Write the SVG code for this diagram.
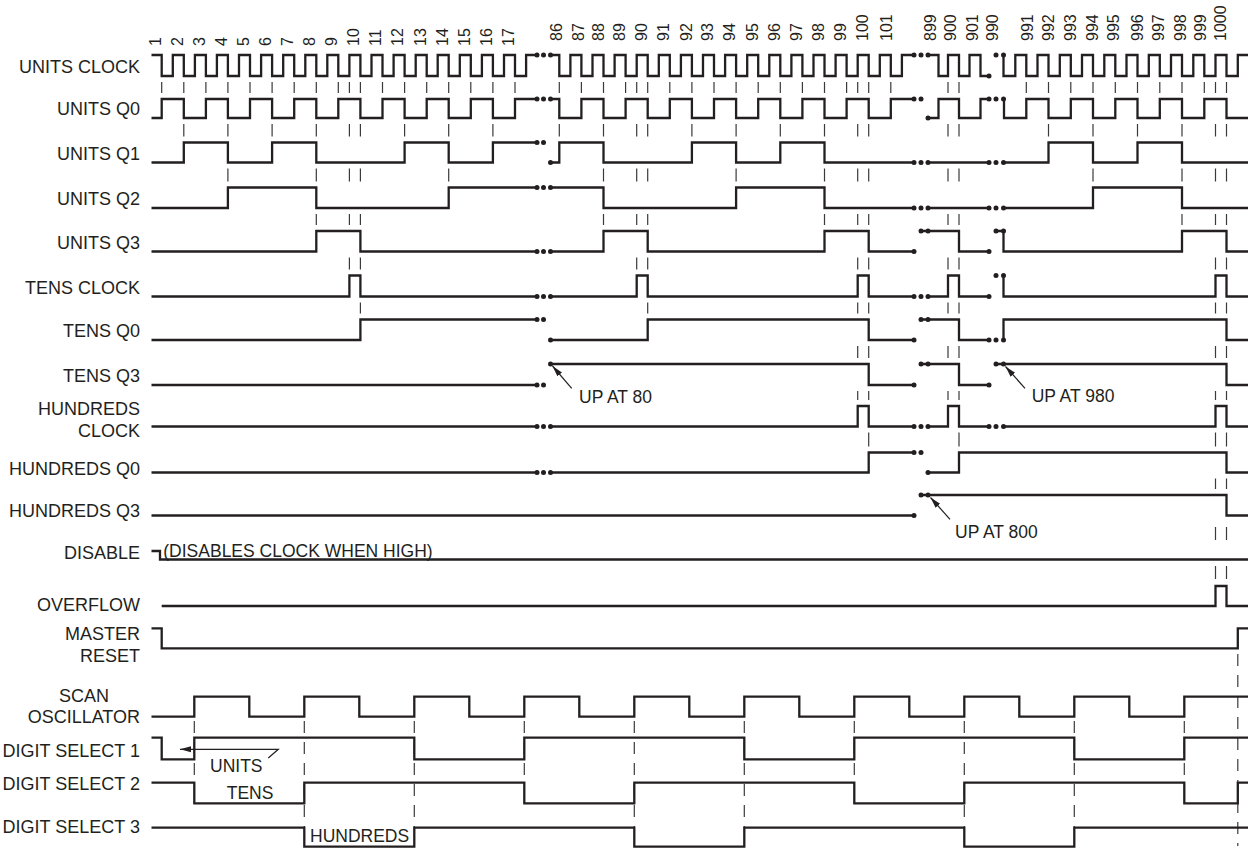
<svg xmlns="http://www.w3.org/2000/svg" width="1254" height="852" viewBox="0 0 1254 852">
<defs>
<style>
.w{fill:none;stroke:#231f20;stroke-width:2.3;stroke-linejoin:miter;stroke-linecap:butt}
.dl{fill:none;stroke:#3a3a3a;stroke-width:1.2;stroke-dasharray:11 31 12.5 32 13 32.5 11 32.5 12 33 11 32.5 12 33 9 32.5 14 32 10.5 38 13 26 13 100}
.db{fill:none;stroke:#3a3a3a;stroke-width:1.2;stroke-dasharray:12 9}
.t{font-family:"Liberation Sans",Arial,sans-serif;font-size:18px;fill:#231f20}
.lb{text-anchor:end}
.n{font-family:"Liberation Sans",Arial,sans-serif;font-size:16px;fill:#231f20}
.a{font-family:"Liberation Sans",Arial,sans-serif;font-size:17.5px;fill:#231f20}
.ar{fill:none;stroke:#231f20;stroke-width:1.2}
circle{fill:#231f20}
</style>
<marker id="ah" markerUnits="userSpaceOnUse" markerWidth="12" markerHeight="8" refX="11" refY="3.5" orient="auto">
<path d="M0,0.5 L11,3.5 L0,6.5 z" fill="#231f20"/>
</marker>
</defs>
<rect width="1254" height="852" fill="#fff"/>

<g id="numbers" class="n">
<text transform="translate(160.5,46) rotate(-90)">1</text>
<text transform="translate(182.6,46) rotate(-90)">2</text>
<text transform="translate(204.7,46) rotate(-90)">3</text>
<text transform="translate(226.7,46) rotate(-90)">4</text>
<text transform="translate(248.8,46) rotate(-90)">5</text>
<text transform="translate(270.9,46) rotate(-90)">6</text>
<text transform="translate(293,46) rotate(-90)">7</text>
<text transform="translate(315.1,46) rotate(-90)">8</text>
<text transform="translate(337.1,46) rotate(-90)">9</text>
<text transform="translate(359.2,46) rotate(-90)">10</text>
<text transform="translate(381.3,46) rotate(-90)">11</text>
<text transform="translate(403.4,46) rotate(-90)">12</text>
<text transform="translate(425.5,46) rotate(-90)">13</text>
<text transform="translate(447.5,46) rotate(-90)">14</text>
<text transform="translate(469.6,46) rotate(-90)">15</text>
<text transform="translate(491.7,46) rotate(-90)">16</text>
<text transform="translate(513.8,46) rotate(-90)">17</text>
<text transform="translate(561.8,41) rotate(-90)">86</text>
<text transform="translate(583.8,41) rotate(-90)">87</text>
<text transform="translate(603.8,41) rotate(-90)">88</text>
<text transform="translate(625.3,41) rotate(-90)">89</text>
<text transform="translate(647.3,41) rotate(-90)">90</text>
<text transform="translate(668.8,41) rotate(-90)">91</text>
<text transform="translate(691.8,41) rotate(-90)">92</text>
<text transform="translate(713.3,41) rotate(-90)">93</text>
<text transform="translate(735.3,41) rotate(-90)">94</text>
<text transform="translate(757.8,41) rotate(-90)">95</text>
<text transform="translate(779.8,41) rotate(-90)">96</text>
<text transform="translate(801.8,41) rotate(-90)">97</text>
<text transform="translate(823.8,41) rotate(-90)">98</text>
<text transform="translate(845.8,41) rotate(-90)">99</text>
<text transform="translate(868.3,41) rotate(-90)">100</text>
<text transform="translate(891.8,41) rotate(-90)">101</text>
<text transform="translate(935.8,41) rotate(-90)">899</text>
<text transform="translate(955.8,41) rotate(-90)">900</text>
<text transform="translate(977.5,41) rotate(-90)">901</text>
<text transform="translate(997.5,41) rotate(-90)">990</text>
<text transform="translate(1032.5,41) rotate(-90)">991</text>
<text transform="translate(1054.1,41) rotate(-90)">992</text>
<text transform="translate(1075.8,41) rotate(-90)">993</text>
<text transform="translate(1097.5,41) rotate(-90)">994</text>
<text transform="translate(1119.1,41) rotate(-90)">995</text>
<text transform="translate(1142.5,41) rotate(-90)">996</text>
<text transform="translate(1164.1,41) rotate(-90)">997</text>
<text transform="translate(1185.8,41) rotate(-90)">998</text>
<text transform="translate(1205.8,41) rotate(-90)">999</text>
<text transform="translate(1225.8,41) rotate(-90)">1000</text>
</g>

<g id="labels" class="t lb">
<text x="140" y="73">UNITS CLOCK</text>
<text x="140" y="115">UNITS Q0</text>
<text x="140" y="159.5">UNITS Q1</text>
<text x="140" y="205">UNITS Q2</text>
<text x="140" y="248.5">UNITS Q3</text>
<text x="140" y="293.5">TENS CLOCK</text>
<text x="140" y="337">TENS Q0</text>
<text x="140" y="382">TENS Q3</text>
<text x="140" y="415">HUNDREDS</text>
<text x="140" y="436.5">CLOCK</text>
<text x="140" y="475">HUNDREDS Q0</text>
<text x="140" y="516.5">HUNDREDS Q3</text>
<text x="140" y="559">DISABLE</text>
<text x="140" y="611">OVERFLOW</text>
<text x="140" y="640">MASTER</text>
<text x="140" y="661.5">RESET</text>
<text x="84" y="701.5" style="text-anchor:middle">SCAN</text>
<text x="140" y="722.5">OSCILLATOR</text>
<text x="140" y="756.5">DIGIT SELECT 1</text>
<text x="140" y="790">DIGIT SELECT 2</text>
<text x="140" y="833">DIGIT SELECT 3</text>
</g>

<g id="connectors">
<path class="dl" d="M161.7,82V93M205.9,82V93M250,82V93M294.2,82V93M338.3,82V93M382.5,82V93M426.7,82V93M470.8,82V93M515,82V93M581.4,82V93M625.6,82V93M669.8,82V93M714,82V93M758.2,82V93M802.4,82V93M846.6,82V93M890.8,82V93M1026.3,82V93M1070.8,82V93M1115.3,82V93M1159.8,82V93M1204.3,82V93
M183.8,82V136.5M272.1,82V136.5M404.6,82V136.5M492.9,82V136.5M559.3,82V136.5M691.9,82V136.5M780.3,82V136.5M1048.5,82V136.5M1137.5,82V136.5
M227.9,82V181.5M448.7,82V181.5M736.1,82V181.5M1093,82V181.5
M316.3,82V225M603.5,82V225M824.5,82V225M1182,82V225
M349.4,82V269.5M636.7,82V269.5
M360.4,82V313.5M647.7,82V313.5
M857.7,82V400M948,82V400
M868.7,82V446.5M959,82V446.5
M1215.5,82V579M1226.5,82V579"/>
<path class="db" d="M194.3,721V783M304.3,721V828M414.3,721V828M524.3,721V783M634.3,721V828M744.3,721V828M854.3,721V783M964.3,721V828M1074.3,721V828M1184.3,721V783M1237.8,654V846"/>
<path class="ar" marker-end="url(#ah)" d="M571.7,388.3L552.5,366"/>
<path class="ar" marker-end="url(#ah)" d="M1025,388.3L1005.5,366.5"/>
<path class="ar" marker-end="url(#ah)" d="M950,519.3L930.5,497.5"/>
<path class="ar" marker-end="url(#ah)" d="M268.3,758L278.3,749.3L180,749.3"/>
</g>

<g id="units-clock">
<path class="w" d="M151.5,55H161.7V76H172.8V55H183.8V76H194.9V55H205.9V76H216.9V55H227.9V76H239V55H250V76H261.1V55H272.1V76H283.2V55H294.2V76H305.3V55H316.3V76H327.3V55H338.3V76H349.4V55H360.4V76H371.5V55H382.5V76H393.6V55H404.6V76H415.7V55H426.7V76H437.7V55H448.7V76H459.8V55H470.8V76H481.9V55H492.9V76H504V55H515V76H526.1V55H537"/>
<path class="w" d="M550.5,55H559.3V76H570.4V55H581.4V76H592.5V55H603.5V76H614.6V55H625.6V76H636.7V55H647.7V76H658.8V55H669.8V76H680.9V55H691.9V76H703V55H714V76H725.1V55H736.1V76H747.2V55H758.2V76H769.3V55H780.3V76H791.4V55H802.4V76H813.5V55H824.5V76H835.6V55H846.6V76H857.7V55H868.7V76H879.8V55H890.8V76H901.9V55H914"/>
<path class="w" d="M928,55H938.5V76H948V55H959V76H969.5V55H980.5V76H989"/>
<path class="w" d="M1003.5,55V76H1015.3V55H1026.3V76H1037.5V55H1048.5V76H1059.8V55H1070.8V76H1082V55H1093V76H1104.3V55H1115.3V76H1126.5V55H1137.5V76H1148.8V55H1159.8V76H1171V55H1182V76H1193.3V55H1204.3V76H1215.5V55H1226.5V76H1237.8V55H1248"/>
<circle cx="537" cy="55" r="2.5"/><circle cx="543.5" cy="55" r="2.5"/><circle cx="550.5" cy="55" r="2.5"/>
<circle cx="914" cy="55" r="2.5"/><circle cx="921" cy="55" r="2.5"/><circle cx="928" cy="55" r="2.5"/>
<circle cx="989" cy="76" r="2.5"/><circle cx="996" cy="55" r="2.5"/><circle cx="1003.5" cy="55" r="2.5"/>
</g>

<g id="units-q0">
<path class="w" d="M151.5,118H161.7V99H183.8V118H205.9V99H227.9V118H250V99H272.1V118H294.2V99H316.3V118H338.3V99H360.4V118H382.5V99H404.6V118H426.7V99H448.7V118H470.8V99H492.9V118H515V99H537"/>
<path class="w" d="M550.5,99H559.3V118H581.4V99H603.5V118H625.6V99H647.7V118H669.8V99H691.9V118H714V99H736.1V118H758.2V99H780.3V118H802.4V99H824.5V118H846.6V99H868.7V118H890.8V99H914"/>
<path class="w" d="M928,118H938.5V99H959V118H980.5V99H989"/>
<path class="w" d="M1003.5,99H1004V118H1026.3V99H1048.5V118H1070.8V99H1093V118H1115.3V99H1137.5V118H1159.8V99H1182V118H1204.3V99H1226.5V118H1248"/>
<circle cx="537" cy="99" r="2.5"/><circle cx="543.5" cy="99" r="2.5"/><circle cx="550.5" cy="99" r="2.5"/>
<circle cx="914" cy="99" r="2.5"/><circle cx="921" cy="99" r="2.5"/><circle cx="928" cy="118" r="2.5"/>
<circle cx="989" cy="99" r="2.5"/><circle cx="996" cy="99" r="2.5"/><circle cx="1003.5" cy="99" r="2.5"/>
</g>

<g id="units-q1">
<path class="w" d="M151.5,162.5H183.8V142.5H227.9V162.5H272.1V142.5H316.3V162.5H404.6V142.5H448.7V162.5H492.9V142.5H537"/>
<path class="w" d="M550.5,162.5H559.3V142.5H603.5V162.5H691.9V142.5H736.1V162.5H780.3V142.5H824.5V162.5H914"/>
<path class="w" d="M928,162.5H989"/>
<path class="w" d="M1003.5,162.5H1048.5V142.5H1093V162.5H1137.5V142.5H1182V162.5H1248"/>
<circle cx="537" cy="142.5" r="2.5"/><circle cx="543.5" cy="142.5" r="2.5"/><circle cx="550.5" cy="162.5" r="2.5"/>
<circle cx="914" cy="162.5" r="2.5"/><circle cx="921" cy="162.5" r="2.5"/><circle cx="928" cy="162.5" r="2.5"/>
<circle cx="989" cy="162.5" r="2.5"/><circle cx="996" cy="162.5" r="2.5"/><circle cx="1003.5" cy="162.5" r="2.5"/>
</g>

<g id="units-q2">
<path class="w" d="M151.5,208H227.9V187.5H316.3V208H448.7V187.5H537"/>
<path class="w" d="M550.5,187.5H603.5V208H736.1V187.5H824.5V208H914"/>
<path class="w" d="M928,208H989"/>
<path class="w" d="M1003.5,208H1093V187.5H1182V208H1248"/>
<circle cx="537" cy="187.5" r="2.5"/><circle cx="543.5" cy="187.5" r="2.5"/><circle cx="550.5" cy="187.5" r="2.5"/>
<circle cx="914" cy="208" r="2.5"/><circle cx="921" cy="208" r="2.5"/><circle cx="928" cy="208" r="2.5"/>
<circle cx="989" cy="208" r="2.5"/><circle cx="996" cy="208" r="2.5"/><circle cx="1003.5" cy="208" r="2.5"/>
</g>

<g id="units-q3">
<path class="w" d="M151.5,251.5H316.3V231H360.4V251.5H537"/>
<path class="w" d="M550.5,251.5H603.5V231H647.7V251.5H824.5V231H868.7V251.5H914"/>
<path class="w" d="M921,231H959V251.5H989"/>
<path class="w" d="M996,231H1003.5V251.5H1182V231H1226.5V251.5H1248"/>
<circle cx="537" cy="251.5" r="2.5"/><circle cx="543.5" cy="251.5" r="2.5"/><circle cx="550.5" cy="251.5" r="2.5"/>
<circle cx="914" cy="251.5" r="2.5"/><circle cx="921" cy="231" r="2.5"/><circle cx="928" cy="231" r="2.5"/>
<circle cx="989" cy="251.5" r="2.5"/><circle cx="996" cy="231" r="2.5"/><circle cx="1003.5" cy="231" r="2.5"/>
</g>

<g id="tens-clock">
<path class="w" d="M151.5,296.5H349.4V275.5H360.4V296.5H537"/>
<path class="w" d="M550.5,296.5H636.7V275.5H647.7V296.5H857.7V275.5H868.7V296.5H914"/>
<path class="w" d="M928,296.5H948V275.5H959V296.5H989"/>
<path class="w" d="M1003.5,275.5V296.5H1215.5V275.5H1226.5V296.5H1248"/>
<circle cx="537" cy="296.5" r="2.5"/><circle cx="543.5" cy="296.5" r="2.5"/><circle cx="550.5" cy="296.5" r="2.5"/>
<circle cx="914" cy="296.5" r="2.5"/><circle cx="921" cy="296.5" r="2.5"/><circle cx="928" cy="296.5" r="2.5"/>
<circle cx="989" cy="296.5" r="2.5"/><circle cx="996" cy="275.5" r="2.5"/><circle cx="1003.5" cy="275.5" r="2.5"/>
</g>

<g id="tens-q0">
<path class="w" d="M151.5,340H360.4V319.5H537"/>
<path class="w" d="M550.5,340H647.7V319.5H868.7V340H914"/>
<path class="w" d="M921,319.5H959V340H989"/>
<path class="w" d="M1003.5,340V319.5H1226.5V340H1248"/>
<circle cx="537" cy="319.5" r="2.5"/><circle cx="543.5" cy="319.5" r="2.5"/><circle cx="550.5" cy="340" r="2.5"/>
<circle cx="914" cy="340" r="2.5"/><circle cx="921" cy="319.5" r="2.5"/><circle cx="928" cy="319.5" r="2.5"/>
<circle cx="989" cy="340" r="2.5"/><circle cx="996" cy="340" r="2.5"/><circle cx="1003.5" cy="340" r="2.5"/>
</g>

<g id="tens-q3">
<path class="w" d="M151.5,385H537"/>
<path class="w" d="M550.5,364H868.7V385H914"/>
<path class="w" d="M921,364H959V385H989"/>
<path class="w" d="M996,364H1226.5V385H1248"/>
<circle cx="537" cy="385" r="2.5"/><circle cx="543.5" cy="385" r="2.5"/><circle cx="550.5" cy="364" r="2.5"/>
<circle cx="914" cy="385" r="2.5"/><circle cx="921" cy="364" r="2.5"/><circle cx="928" cy="364" r="2.5"/>
<circle cx="989" cy="385" r="2.5"/><circle cx="996" cy="364" r="2.5"/><circle cx="1003.5" cy="364" r="2.5"/>
<text class="a" x="579" y="403">UP AT 80</text>
<text class="a" x="1031.7" y="401.7">UP AT 980</text>
</g>

<g id="hundreds-clock">
<path class="w" d="M151.5,426.5H537"/>
<path class="w" d="M550.5,426.5H857.7V406H868.7V426.5H914"/>
<path class="w" d="M928,426.5H948V406H959V426.5H989"/>
<path class="w" d="M1003.5,426.5H1215.5V406H1226.5V426.5H1248"/>
<circle cx="537" cy="426.5" r="2.5"/><circle cx="543.5" cy="426.5" r="2.5"/><circle cx="550.5" cy="426.5" r="2.5"/>
<circle cx="914" cy="426.5" r="2.5"/><circle cx="921" cy="426.5" r="2.5"/><circle cx="928" cy="426.5" r="2.5"/>
<circle cx="989" cy="426.5" r="2.5"/><circle cx="996" cy="426.5" r="2.5"/><circle cx="1003.5" cy="426.5" r="2.5"/>
</g>

<g id="hundreds-q0">
<path class="w" d="M151.5,472.5H537"/>
<path class="w" d="M550.5,472.5H868.7V452.5H914"/>
<path class="w" d="M928,472.5H959V452.5H1226.5V472.5H1248"/>
<circle cx="537" cy="472.5" r="2.5"/><circle cx="543.5" cy="472.5" r="2.5"/><circle cx="550.5" cy="472.5" r="2.5"/>
<circle cx="914" cy="452.5" r="2.5"/><circle cx="921" cy="452.5" r="2.5"/><circle cx="928" cy="472.5" r="2.5"/>
</g>

<g id="hundreds-q3">
<path class="w" d="M151.5,515.5H914"/>
<path class="w" d="M921,495H1226.5V515.5H1248"/>
<circle cx="914" cy="515.5" r="2.5"/><circle cx="921" cy="495" r="2.5"/><circle cx="928" cy="495" r="2.5"/>
<text class="a" x="955" y="538.3">UP AT 800</text>
</g>

<g id="disable">
<path class="w" d="M151.5,551H160V559.5H1248"/>
<text class="a" x="163.3" y="557">(DISABLES CLOCK WHEN HIGH)</text>
</g>

<g id="overflow">
<path class="w" d="M161.7,606H1215.5V586H1226.5V606H1248"/>
</g>

<g id="master-reset">
<path class="w" d="M151.5,628.3H161.7V648.3H1237.8V628.3H1248"/>
</g>

<g id="scan-oscillator">
<path class="w" d="M151.5,716.7H194.3V696.7H249.3V716.7H304.3V696.7H359.3V716.7H414.3V696.7H469.3V716.7H524.3V696.7H579.3V716.7H634.3V696.7H689.3V716.7H744.3V696.7H799.3V716.7H854.3V696.7H909.3V716.7H964.3V696.7H1019.3V716.7H1074.3V696.7H1129.3V716.7H1184.3V696.7H1248"/>
</g>

<g id="digit-select-1">
<path class="w" d="M151.5,737.7H161.7V759.3H194.3V737.7H414.3V759.3H524.3V737.7H744.3V759.3H854.3V737.7H1074.3V759.3H1184.3V737.7H1248"/>
<text class="a" x="210" y="771.7">UNITS</text>
</g>

<g id="digit-select-2">
<path class="w" d="M151.5,782.7H194.3V803.3H304.3V782.7H524.3V803.3H634.3V782.7H854.3V803.3H964.3V782.7H1184.3V803.3H1237.8V782.7H1248"/>
<text class="a" x="226.7" y="799.3">TENS</text>
</g>

<g id="digit-select-3">
<path class="w" d="M151.5,827.7H304.3V846.7H414.3V827.7H634.3V846.7H744.3V827.7H964.3V846.7H1074.3V827.7H1248"/>
<text class="a" x="310" y="841.7">HUNDREDS</text>
</g>
</svg>
